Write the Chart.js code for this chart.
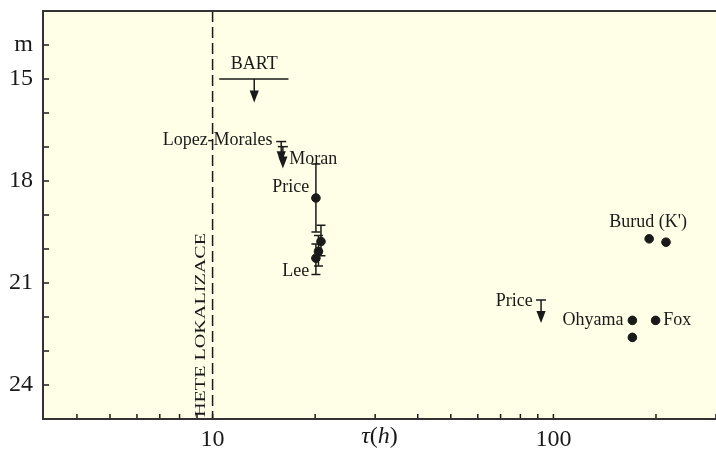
<!DOCTYPE html>
<html>
<head>
<meta charset="utf-8">
<script src="https://cdn.jsdelivr.net/npm/chart.js@4.4.1/dist/chart.umd.min.js"></script>
<style>
  body { margin: 0; background: #fff; }
  #chart { display: block; }
</style>
</head>
<body>
<canvas id="chart" width="716" height="451"></canvas>
<script>
// tau (h) vs. magnituda m - body s chybou, horni limity, popisky

// plne body
const dotX = [20.1, 20.8, 20.45, 20.1, 191, 214, 170.5, 170.5, 199.5];
const dotM = [18.5, 19.78, 20.07, 20.27, 19.7, 19.8, 22.1, 22.6, 22.1];

// chybove useky (svisle)
const errX = [20.1, 20.8, 20.45, 20.1];
const errLo = [17.5, 19.3, 19.6, 19.85];
const errHi = [19.5, 20.2, 20.5, 20.75];

// horni limity (sipky dolu): BART, Lopez-Morales, Moran, Price
const limX = [13.25, 15.9, 16.08, 92];
const limM = [15, 16.84, 16.99, 21.5];
const limTo = [15.69, 17.48, 17.63, 22.18];
const limCap = [false, true, true, true];

// BART - vodorovny usek
const bartX = [10.46, 16.7];
const bartM = 15;

// HETE lokalizace
const heteX = 10;

// popisky
const noteText = ['BART', 'Lopez-Morales', 'Moran', 'Price', 'Lee', "Burud (K')", 'Price', 'Ohyama', 'Fox'];
const noteX = [13.25, 15.0, 16.8, 19.2, 19.2, 189.6, 87, 160.5, 210.2];
const noteM = [14.56, 16.79, 17.36, 18.17, 20.66, 19.2, 21.55, 22.09, 22.09];
const noteAlign = ['center', 'right', 'left', 'right', 'right', 'center', 'right', 'right', 'left'];

// osy
const xMin = 3.18, xMax = 300;
const yMin = 13, yMax = 25;
const xTickVals = [4, 5, 6, 7, 8, 9, 10, 20, 30, 40, 50, 60, 70, 80, 90, 100, 200, 300];
const xTickText = ['', '', '', '', '', '', '10', '', '', '', '', '', '', '', '', '100', '', ''];
const yTickVals = [14, 15, 16, 17, 18, 19, 20, 21, 22, 23, 24];
const yTickText = ['m', '15', '', '', '18', '', '', '21', '', '', '24'];

const serif = '"Liberation Serif", "DejaVu Serif", serif';
const ink = '#1a1a1a';

function arrowDown(ctx, x, y0, y1) {
    const headH = 12, headW = 4.6;
    ctx.beginPath();
    ctx.moveTo(x, y0);
    ctx.lineTo(x, y1 - headH + 1);
    ctx.stroke();
    ctx.beginPath();
    ctx.moveTo(x - headW, y1 - headH);
    ctx.lineTo(x + headW, y1 - headH);
    ctx.lineTo(x, y1);
    ctx.closePath();
    ctx.fill();
}

const extras = {
    id: 'extras',
    beforeDraw(chart) {
        const { ctx, chartArea: a } = chart;
        ctx.save();
        ctx.fillStyle = '#fffee6';
        ctx.fillRect(a.left, a.top, a.right - a.left, a.bottom - a.top);
        ctx.restore();
    },
    afterDatasetsDraw(chart) {
        const { ctx, chartArea: a } = chart;
        const xs = chart.scales.x, ys = chart.scales.y;
        ctx.save();
        ctx.strokeStyle = ink;
        ctx.fillStyle = ink;
        ctx.lineWidth = 1.5;

        // chybove useky
        errX.forEach(function(v, i) {
            const px = xs.getPixelForValue(v);
            const p1 = ys.getPixelForValue(errLo[i]);
            const p2 = ys.getPixelForValue(errHi[i]);
            ctx.beginPath();
            ctx.moveTo(px, p1); ctx.lineTo(px, p2);
            ctx.moveTo(px - 4.5, p1); ctx.lineTo(px + 4.5, p1);
            ctx.moveTo(px - 4.5, p2); ctx.lineTo(px + 4.5, p2);
            ctx.stroke();
        });

        // horni limity
        limX.forEach(function(v, i) {
            const px = xs.getPixelForValue(v);
            const p1 = ys.getPixelForValue(limM[i]);
            const p2 = ys.getPixelForValue(limTo[i]);
            if (limCap[i]) {
                ctx.beginPath();
                ctx.moveTo(px - 5, p1); ctx.lineTo(px + 5, p1);
                ctx.stroke();
            }
            arrowDown(ctx, px, p1, p2);
        });

        // popisky
        ctx.font = '18px ' + serif;
        ctx.textBaseline = 'middle';
        noteText.forEach(function(t, i) {
            ctx.textAlign = noteAlign[i];
            ctx.fillText(t, xs.getPixelForValue(noteX[i]), ys.getPixelForValue(noteM[i]));
        });

        // HETE LOKALIZACE (svisle)
        ctx.save();
        ctx.translate(xs.getPixelForValue(heteX) - 8, a.bottom - 2);
        ctx.rotate(-Math.PI / 2);
        ctx.font = '14px ' + serif;
        ctx.textAlign = 'left';
        ctx.textBaseline = 'alphabetic';
        const w = ctx.measureText('HETE LOKALIZACE').width;
        ctx.scale(184 / w, 1);
        ctx.fillText('HETE LOKALIZACE', 0, 0);
        ctx.restore();

        // znacky dovnitr
        xs.ticks.forEach(function(t) {
            const px = xs.getPixelForValue(t.value);
            ctx.beginPath();
            ctx.moveTo(px, a.bottom); ctx.lineTo(px, a.bottom - 5);
            ctx.stroke();
        });
        ys.ticks.forEach(function(t) {
            const py = ys.getPixelForValue(t.value);
            ctx.beginPath();
            ctx.moveTo(a.left, py); ctx.lineTo(a.left + 6, py);
            ctx.stroke();
        });

        // ramecek
        ctx.lineWidth = 2;
        ctx.strokeStyle = '#333';
        ctx.beginPath();
        ctx.moveTo(a.right, a.top); ctx.lineTo(a.left, a.top);
        ctx.lineTo(a.left, a.bottom); ctx.lineTo(a.right, a.bottom);
        ctx.stroke();

        // popis osy x: tau(h)
        const parts = [['τ', 'italic '], ['(', ''], ['h', 'italic '], [')', '']];
        let total = 0;
        parts.forEach(function(p) {
            ctx.font = p[1] + '24px ' + serif;
            total += ctx.measureText(p[0]).width;
        });
        let cx = (a.left + a.right) / 2 - total / 2;
        ctx.textAlign = 'left';
        ctx.textBaseline = 'middle';
        parts.forEach(function(p) {
            ctx.font = p[1] + '24px ' + serif;
            ctx.fillText(p[0], cx, 437);
            cx += ctx.measureText(p[0]).width;
        });
        ctx.restore();
    }
};

document.addEventListener('DOMContentLoaded', function() {
    const ctx = document.getElementById('chart').getContext('2d');
    new Chart(ctx, {
        type: 'scatter',
        data: {
            datasets: [
                {
                    data: dotX.map((x, i) => ({ x: x, y: dotM[i] })),
                    backgroundColor: ink,
                    borderColor: ink,
                    pointRadius: 4.3,
                    pointHoverRadius: 4.3
                },
                {
                    data: [{ x: heteX, y: yMin }, { x: heteX, y: yMax }],
                    showLine: true,
                    borderColor: ink,
                    borderWidth: 1.5,
                    borderDash: [11, 5],
                    pointRadius: 0
                },
                {
                    data: bartX.map(x => ({ x: x, y: bartM })),
                    showLine: true,
                    borderColor: ink,
                    borderWidth: 1.5,
                    pointRadius: 0
                }
            ]
        },
        options: {
            responsive: false,
            animation: false,
            devicePixelRatio: 1,
            layout: { autoPadding: false, padding: { top: 11, right: 0, left: 0, bottom: 0 } },
            plugins: {
                legend: { display: false },
                tooltip: { enabled: false }
            },
            scales: {
                x: {
                    type: 'logarithmic',
                    min: xMin,
                    max: xMax,
                    afterBuildTicks: s => { s.ticks = xTickVals.map(v => ({ value: v })); },
                    afterFit: s => { s.height = 32; s.paddingLeft = 0; s.paddingRight = 0; },
                    grid: { display: false, drawTicks: false },
                    border: { display: false },
                    ticks: {
                        autoSkip: false,
                        maxRotation: 0,
                        padding: 6,
                        color: ink,
                        font: { family: serif, size: 24 },
                        callback: (v, i) => xTickText[i]
                    }
                },
                y: {
                    type: 'linear',
                    min: yMin,
                    max: yMax,
                    reverse: true,
                    afterBuildTicks: s => { s.ticks = yTickVals.map(v => ({ value: v })); },
                    afterFit: s => { s.width = 43; s.paddingTop = 0; s.paddingBottom = 0; },
                    grid: { display: false, drawTicks: false },
                    border: { display: false },
                    ticks: {
                        autoSkip: false,
                        padding: 10,
                        color: ink,
                        font: { family: serif, size: 24 },
                        callback: (v, i) => yTickText[i]
                    }
                }
            }
        },
        plugins: [extras]
    });
});
</script>
</body>
</html>
